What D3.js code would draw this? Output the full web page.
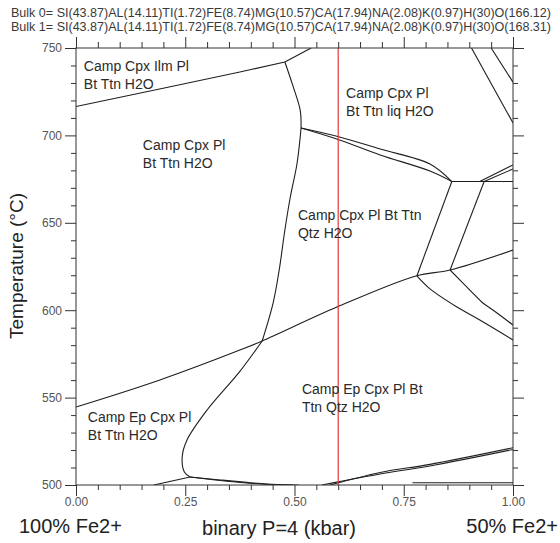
<!DOCTYPE html>
<html>
<head>
<meta charset="utf-8">
<script src="https://cdn.jsdelivr.net/npm/d3@7"></script>
<style>
  html, body { margin: 0; padding: 0; background: #fff; }
  svg { display: block; font-family: "Liberation Sans", Arial, sans-serif; }
</style>
</head>
<body>
<svg id="chart" width="560" height="543"></svg>
<script>
// ---------- data ----------
const headerLines = [
  "Bulk 0= SI(43.87)AL(14.11)TI(1.72)FE(8.74)MG(10.57)CA(17.94)NA(2.08)K(0.97)H(30)O(166.12)",
  "Bulk 1= SI(43.87)AL(14.11)TI(1.72)FE(8.74)MG(10.57)CA(17.94)NA(2.08)K(0.97)H(30)O(168.31)"
];
const xDomain = [0, 1];
const tDomain = [500, 750];
const xTickValues = [0, 0.25, 0.5, 0.75, 1];
const tTickValues = [500, 550, 600, 650, 700, 750];
const xMinorStep = 0.05;
const tMinorStep = 10;
const xTitle = "binary P=4 (kbar)";
const yTitle = "Temperature (°C)";
const leftEnd = "100% Fe2+";
const rightEnd = "50% Fe2+";
const sectionX = 0.6;

// phase boundaries: [x, T]
const bTopLeft      = [[0, 716.5], [0.375, 736.3], [0.478, 742.0]];
const bTopUp        = [[0.478, 742.0], [0.538, 750]];
const bUpperMid     = [[0.478, 742.0], [0.497, 727.9], [0.513, 714.5], [0.515, 704.2]];
const bLiqUpper     = [[0.515, 704.2], [0.603, 699.1], [0.696, 692.2], [0.810, 683.6], [0.860, 673.6]];
const bLiqLower     = [[0.515, 704.2], [0.603, 697.4], [0.696, 688.8], [0.810, 679.6], [0.860, 673.6]];
const bCentral      = [[0.515, 704.2], [0.506, 684.2], [0.490, 664.2], [0.478, 645.9], [0.465, 623.0], [0.451, 604.1], [0.426, 582.4]];
const bQtzIn        = [[0, 544.6], [0.192, 560.1], [0.375, 577.2], [0.426, 582.4], [0.597, 601.8], [0.778, 619.6], [0.856, 623.0], [1, 634.4]];
const bEpOut        = [[0.426, 582.4], [0.375, 565.0], [0.300, 542.9], [0.254, 525.7], [0.243, 516.0], [0.248, 507.5], [0.261, 504.6]];
const bLowLeft      = [[0.178, 500], [0.261, 504.6]];
const bLowA         = [[0.261, 504.6], [0.330, 502.9], [0.391, 501.5], [0.437, 500.6], [0.497, 500]];
const bLowB         = [[0.261, 504.6], [0.352, 502.0], [0.443, 500.3], [0.510, 500]];
const bRiseA        = [[0.563, 500], [0.604, 502.0], [0.696, 506.3], [0.810, 510.9], [1, 520.3]];
const bRiseB        = [[0.581, 500], [0.696, 507.2], [0.810, 511.8], [1, 521.3]];
const bBottomRight  = [[0.77, 501.3], [1, 501.3]];
const bTopRightA    = [[0.905, 750], [1, 707.1]];
const bTopRightB    = [[0.950, 750], [1, 730.5]];
const bRightFlat    = [[0.860, 673.6], [1, 673.6]];
const bRightUpA     = [[0.924, 673.6], [1, 683.1]];
const bRightUpB     = [[0.934, 673.6], [1, 680.8]];
const bRightDownA   = [[0.860, 673.6], [0.780, 619.6]];
const bRightDownB   = [[0.934, 673.6], [0.856, 623.0]];
const bRightCurveA  = [[0.780, 619.6], [0.810, 612.2], [0.872, 601.8], [0.924, 594.4], [1, 583.0]];
const bRightCurveB  = [[0.856, 623.0], [0.908, 609.8], [0.931, 604.1], [0.954, 600.1], [1, 591.5]];

const boundaries = [bTopLeft, bTopUp, bUpperMid, bLiqUpper, bLiqLower, bCentral, bQtzIn, bEpOut,
  bLowLeft, bLowA, bLowB, bRiseA, bRiseB, bBottomRight, bTopRightA, bTopRightB, bRightFlat,
  bRightUpA, bRightUpB, bRightDownA, bRightDownB, bRightCurveA, bRightCurveB];

// field labels: anchor [x, T] of first line baseline
const fieldLabels = [
  { lines: ["Camp Cpx Ilm Pl", "Bt Ttn H2O"], at: [0.018, 736.8] },
  { lines: ["Camp Cpx Pl", "Bt Ttn H2O"], at: [0.153, 691.6] },
  { lines: ["Camp Cpx Pl", "Bt Ttn liq H2O"], at: [0.618, 721.4] },
  { lines: ["Camp Cpx Pl Bt Ttn", "Qtz H2O"], at: [0.508, 651.6] },
  { lines: ["Camp Ep Cpx Pl Bt", "Ttn Qtz H2O"], at: [0.517, 552.1] },
  { lines: ["Camp Ep Cpx Pl", "Bt Ttn H2O"], at: [0.027, 536.0] }
];

// ---------- drawing ----------
const svg = d3.select("#chart");
const pLeft = 76, pRight = 513, pTop = 48, pBottom = 485;
const x = d3.scaleLinear(xDomain, [pLeft, pRight]);
const y = d3.scaleLinear(tDomain, [pBottom, pTop]);

// header
svg.append("g").selectAll("text").data(headerLines).join("text")
  .attr("x", 11).attr("y", (d, i) => 17 + i * 13.5)
  .attr("font-size", 12).attr("fill", "#3a3a3a")
  .attr("textLength", 540).attr("lengthAdjust", "spacingAndGlyphs")
  .text(d => d);

const xMinor = d3.range(xDomain[0], xDomain[1] + 1e-9, xMinorStep).filter(v => !xTickValues.some(m => Math.abs(m - v) < 1e-9));
const tMinor = d3.range(tDomain[0], tDomain[1] + 1e-9, tMinorStep).filter(v => !tTickValues.includes(v));

const axisColor = "#333";
function styleAxis(g) {
  g.select(".domain").remove();
  g.selectAll(".tick line").attr("stroke", axisColor).attr("stroke-width", 1);
  g.selectAll(".tick text").attr("fill", "#555").attr("font-size", 12);
}
// bottom
svg.append("g").attr("transform", `translate(0,${pBottom})`)
  .call(d3.axisBottom(x).tickValues(xTickValues).tickSize(11).tickPadding(1).tickFormat(d3.format(".2f"))).call(styleAxis);
svg.append("g").attr("transform", `translate(0,${pBottom})`)
  .call(d3.axisBottom(x).tickValues(xMinor).tickSize(5).tickFormat("")).call(styleAxis);
// top
svg.append("g").attr("transform", `translate(0,${pTop})`)
  .call(d3.axisTop(x).tickValues(xTickValues).tickSize(11).tickFormat("")).call(styleAxis);
svg.append("g").attr("transform", `translate(0,${pTop})`)
  .call(d3.axisTop(x).tickValues(xMinor).tickSize(6).tickFormat("")).call(styleAxis);
// left
svg.append("g").attr("transform", `translate(${pLeft},0)`)
  .call(d3.axisLeft(y).tickValues(tTickValues).tickSize(11).tickPadding(3).tickFormat(d3.format("d"))).call(styleAxis);
svg.append("g").attr("transform", `translate(${pLeft},0)`)
  .call(d3.axisLeft(y).tickValues(tMinor).tickSize(5).tickFormat("")).call(styleAxis);
// right
svg.append("g").attr("transform", `translate(${pRight},0)`)
  .call(d3.axisRight(y).tickValues(tTickValues).tickSize(11).tickFormat("")).call(styleAxis);
svg.append("g").attr("transform", `translate(${pRight},0)`)
  .call(d3.axisRight(y).tickValues(tMinor).tickSize(5).tickFormat("")).call(styleAxis);

// clip
svg.append("clipPath").attr("id", "plotclip").append("rect")
  .attr("x", pLeft).attr("y", pTop).attr("width", pRight - pLeft).attr("height", pBottom - pTop);

const line = d3.line().x(d => x(d[0])).y(d => y(d[1])).curve(d3.curveCatmullRom.alpha(0.5));
svg.append("g").attr("clip-path", "url(#plotclip)")
  .selectAll("path").data(boundaries).join("path")
  .attr("d", line).attr("fill", "none").attr("stroke", "#1e1e1e").attr("stroke-width", 1.1);

// section line
svg.append("line")
  .attr("x1", x(sectionX)).attr("x2", x(sectionX)).attr("y1", y(tDomain[0])).attr("y2", y(tDomain[1]))
  .attr("stroke", "#e23b3b").attr("stroke-width", 1.2);

// frame
svg.append("rect").attr("x", pLeft).attr("y", pTop).attr("width", pRight - pLeft).attr("height", pBottom - pTop)
  .attr("fill", "none").attr("stroke", axisColor).attr("stroke-width", 1);

// field labels
const lg = svg.append("g").attr("font-size", 14).attr("fill", "#2a2a2a");
fieldLabels.forEach(l => {
  const t = lg.append("text").attr("x", x(l.at[0])).attr("y", y(l.at[1]));
  l.lines.forEach((s, i) => t.append("tspan").attr("x", x(l.at[0])).attr("dy", i === 0 ? 0 : 18).text(s));
});

// titles
svg.append("text").attr("x", 19).attr("y", 533).attr("font-size", 20).attr("fill", "#222").text(leftEnd);
svg.append("text").attr("x", 558).attr("y", 533).attr("text-anchor", "end").attr("font-size", 20).attr("fill", "#222").text(rightEnd);
svg.append("text").attr("x", 279).attr("y", 535).attr("text-anchor", "middle").attr("font-size", 20).attr("fill", "#222").text(xTitle);
svg.append("text").attr("transform", "translate(23,266) rotate(-90)").attr("text-anchor", "middle")
  .attr("font-size", 19).attr("fill", "#222").text(yTitle);
</script>
</body>
</html>
